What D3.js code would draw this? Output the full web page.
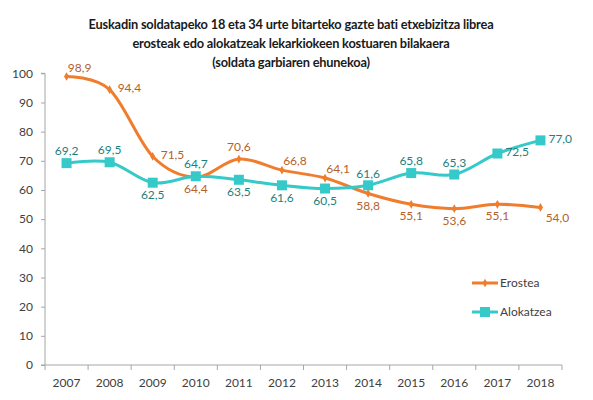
<!DOCTYPE html>
<html><head><meta charset="utf-8">
<script src="https://cdn.jsdelivr.net/npm/d3@7"></script>
<style>
body{margin:0;background:#fff;}
svg{display:block;font-family:Lato,"Open Sans",sans-serif;}
</style></head>
<body><svg id="c" width="593" height="400"></svg>
<script>
const years = ["2007","2008","2009","2010","2011","2012","2013","2014","2015","2016","2017","2018"];
const erostea = [98.9,94.4,71.5,64.4,70.6,66.8,64.1,58.8,55.1,53.6,55.1,54.0];
const alokatzea = [69.2,69.5,62.5,64.7,63.5,61.6,60.5,61.6,65.8,65.3,72.5,77.0];
const yTicks = [0,10,20,30,40,50,60,70,80,90,100];
const seriesNames = ["Erostea","Alokatzea"];
const titleLines = ["Euskadin soldatapeko 18 eta 34 urte bitarteko gazte bati etxebizitza librea","erosteak edo alokatzeak lekarkiokeen kostuaren bilakaera","(soldata garbiaren ehunekoa)"];
const erLabelPos = ["tr","r","r","b","t","tr","tr","b","b","b","b","br"];
const alLabelPos = ["t","t","b","t","b","b","b","t","t","t","r","r"];

const svg = d3.select("#c");
const pLeft=45, pRight=562, pTop=73.3, pBottom=365;
const x = d3.scaleBand().domain(years).range([pLeft,pRight]);
const y = d3.scaleLinear().domain([0,100]).range([pBottom,pTop]);
const cx = d => x(d)+x.bandwidth()/2;

const orange="#F07D2E", orangeLbl="#B5612B", teal="#35C9C9", tealLbl="#217F80", axisCol="#A6A6A6", txt="#404040";

// title
svg.append("g").selectAll("text").data(titleLines).join("text")
  .attr("x",291).attr("y",(d,i)=>29+i*19).attr("text-anchor","middle")
  .attr("font-weight","bold").attr("font-size",12.8).attr("letter-spacing",-0.2)
  .attr("fill","#1a1a1a").text(d=>d);

// y axis
const ya = svg.append("g").attr("transform",`translate(${pLeft},0)`)
  .call(d3.axisLeft(y).tickValues(yTicks).tickSize(4).tickPadding(8).tickFormat(d3.format("d")));
ya.select(".domain").attr("stroke",axisCol).attr("d",`M-4,${pTop}H0V${pBottom}H-4`);
ya.selectAll(".tick line").attr("stroke",axisCol);
ya.selectAll(".tick text").attr("fill",txt).attr("font-size",12).attr("font-family","Lato,sans-serif");

// x axis
const xa = svg.append("g").attr("transform",`translate(0,${pBottom})`);
xa.append("line").attr("x1",pLeft).attr("x2",pRight).attr("stroke",axisCol);
const bounds = years.map(d=>x(d)).concat([pRight]);
xa.selectAll("line.t").data(bounds).join("line").attr("class","t")
  .attr("x1",d=>d).attr("x2",d=>d).attr("y1",0).attr("y2",5).attr("stroke",axisCol);
xa.selectAll("text").data(years).join("text").attr("x",d=>cx(d)).attr("y",22)
  .attr("text-anchor","middle").attr("font-size",12).attr("fill",txt).text(d=>d);

const line = d3.line().x((d,i)=>cx(years[i])).y(d=>y(d)).curve(d3.curveCardinal.tension(0));

function labelAttrs(sel,vals,pos){
  sel.attr("x",(d,i)=>{const p=pos[i],X=cx(years[i]);
      return p==="r"?X+8:p==="tr"?X+13:p==="br"?X+17:X;})
    .attr("y",(d,i)=>{const p=pos[i],Y=y(vals[i]);
      return (p==="t"?Y-12:p==="b"?Y+12:p==="tr"?Y-9:p==="br"?Y+10:Y-2);})
    .attr("dy","0.35em")
    .attr("text-anchor",(d,i)=>pos[i]==="r"?"start":"middle");
}
const fmt = v=>d3.format(".1f")(v).replace(".",",");

// Erostea
svg.append("path").datum(erostea).attr("d",line).attr("fill","none").attr("stroke",orange).attr("stroke-width",3);
svg.append("g").selectAll("path").data(erostea).join("path")
  .attr("transform",(d,i)=>`translate(${cx(years[i])},${y(d)})`)
  .attr("d",d3.symbol(d3.symbolDiamond,22)).attr("fill",orange);
labelAttrs(svg.append("g").selectAll("text").data(erostea).join("text")
  .attr("font-size",12).attr("fill",orangeLbl).text(fmt),erostea,erLabelPos);

// Alokatzea
svg.append("path").datum(alokatzea).attr("d",line).attr("fill","none").attr("stroke",teal).attr("stroke-width",3);
svg.append("g").selectAll("rect").data(alokatzea).join("rect")
  .attr("x",(d,i)=>cx(years[i])-5).attr("y",d=>y(d)-5).attr("width",10).attr("height",10).attr("fill",teal);
labelAttrs(svg.append("g").selectAll("text").data(alokatzea).join("text")
  .attr("font-size",12).attr("fill",tealLbl).text(fmt),alokatzea,alLabelPos);

// legend
const lg = svg.append("g");
const lgY=[283,312];
lg.selectAll("line").data(seriesNames).join("line").attr("x1",472).attr("x2",498)
  .attr("y1",(d,i)=>lgY[i]).attr("y2",(d,i)=>lgY[i]).attr("stroke",(d,i)=>i?teal:orange).attr("stroke-width",3);
lg.append("path").attr("transform",`translate(485,${lgY[0]})`).attr("d",d3.symbol(d3.symbolDiamond,22)).attr("fill",orange);
lg.append("rect").attr("x",480).attr("y",lgY[1]-5).attr("width",10).attr("height",10).attr("fill",teal);
lg.selectAll("text").data(seriesNames).join("text").attr("x",500).attr("y",(d,i)=>lgY[i]).attr("dy","0.35em")
  .attr("font-size",12).attr("fill",txt).text(d=>d);
</script></body></html>
